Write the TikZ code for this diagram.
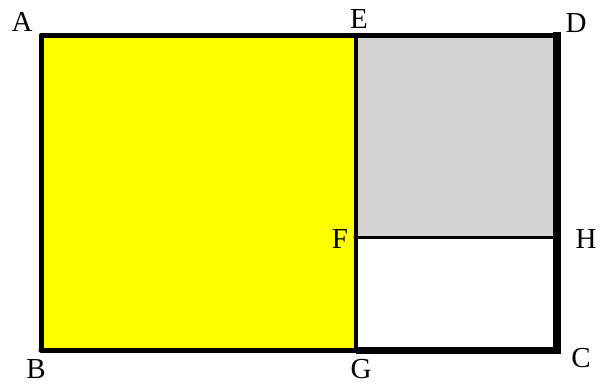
\documentclass[tikz,border=0pt]{standalone}
\usepackage{fontspec}
\setmainfont{Liberation Serif}
\definecolor{pureyellow}{RGB}{255,255,0}
\definecolor{lightgrey}{RGB}{211,211,211}
\begin{document}
\begin{tikzpicture}[x=1pt,y=-1pt,
  lbl/.style={inner sep=0pt,text height=20pt,text depth=0pt,anchor=center,font=\fontsize{29}{34}\selectfont},
  edge/.style={line width=5pt,line cap=round,line join=round}]
\useasboundingbox (0,0) rectangle (602,383);
\coordinate (A) at (41,35);
\coordinate (B) at (41,350);
\coordinate (E) at (356,35);
\coordinate (G) at (356,350);
\coordinate (F) at (356,237);
\coordinate (H) at (557,237);
\coordinate (D) at (557,35);
\coordinate (C) at (557,350);
\fill[pureyellow] (A) rectangle (G);
\fill[lightgrey] (E) rectangle (H);
\fill[white] (F) rectangle (C);
\draw[line width=3pt] (F) -- (H);
\draw[line width=4pt] (E) -- (G);
\draw[edge] (B) -- (A) -- (D);
\draw[edge] (B) -- (G);
\draw[line width=7pt] (G) -- (C);
\draw[line width=8pt] (557,32) -- (557,354);
\fill (F) circle (2.5pt);
\node[lbl] (lA) at (22,21) {A};
\node[lbl] (lE) at (359,18) {E};
\node[lbl] (lD) at (576,22) {D};
\node[lbl] (lF) at (340,238) {F};
\node[lbl] (lH) at (586,238) {H};
\node[lbl] (lB) at (36,368) {B};
\node[lbl] (lG) at (361,368) {G};
\node[lbl] (lC) at (581,357) {C};
\end{tikzpicture}
\end{document}
